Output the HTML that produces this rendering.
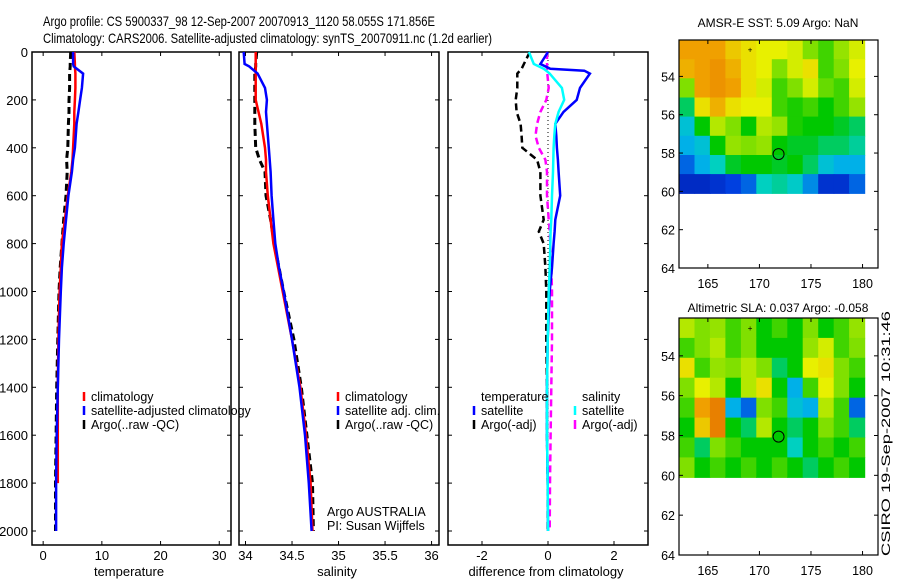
<!DOCTYPE html>
<html><head><meta charset="utf-8"><style>
body{margin:0;background:#fff;}
svg{display:block;font-family:"Liberation Sans",sans-serif;}
</style></head><body>
<svg id="fig" width="900" height="580" viewBox="0 0 900 580">
<text x="43" y="26" font-size="14" textLength="392" lengthAdjust="spacingAndGlyphs">Argo profile: CS 5900337_98 12-Sep-2007 20070913_1120 58.055S 171.856E</text>
<text x="43" y="43" font-size="14" textLength="449" lengthAdjust="spacingAndGlyphs">Climatology: CARS2006. Satellite-adjusted climatology: synTS_20070911.nc (1.2d earlier)</text>
<g id="layer"></g>
<text transform="translate(890,556) rotate(-90)" font-size="12" textLength="245" lengthAdjust="spacingAndGlyphs">CSIRO 19-Sep-2007 10:31:46</text>
</svg>
<script>
// ---------- data ----------
const depthTicks = [0,200,400,600,800,1000,1200,1400,1600,1800,2000];
const tempTicks = [0,10,20,30];
const salTicks = [34,34.5,35,35.5,36];
const salTickLabels = ['34','34.5','35','35.5','36'];
const diffTicks = [-2,0,2];

const profDepth = [0,50,60,90,150,200,250,300,400,450,500,600,700,800,900,1000,1200,1400,1600,1800,2000];
const tempClim = [5.3,5.4,5.4,5.5,5.5,5.4,5.3,5.3,5.1,5.0,4.8,4.2,3.7,3.2,3.0,2.8,2.6,2.5,2.5,2.5,null];
const tempSat  = [5.1,5.1,5.2,6.8,6.6,6.3,6.0,5.7,5.4,5.1,4.9,4.3,3.9,3.5,3.2,3.0,2.7,2.5,2.3,2.2,2.2];
const tempArgo = [4.7,4.6,4.6,4.5,4.5,4.4,4.4,4.3,4.2,4.0,4.1,3.9,3.5,3.2,2.9,2.7,2.5,2.3,2.2,2.1,2.1];
const salClim  = [34.11,34.11,34.11,34.11,34.11,34.11,34.14,34.17,34.21,34.22,34.22,34.24,34.27,34.30,34.35,34.40,34.50,34.59,34.65,34.70,34.72];
const salSat   = [33.98,33.99,34.04,34.13,34.21,34.23,34.22,34.23,34.25,34.26,34.27,34.28,34.30,34.32,34.36,34.41,34.50,34.58,34.64,34.68,34.71];
const salArgo  = [34.12,34.11,34.11,34.10,34.10,34.10,34.10,34.10,34.11,34.15,34.21,34.22,34.27,34.31,34.36,34.41,34.52,34.60,34.66,34.72,34.73];

const diffDepth = [0,50,70,78,90,150,200,250,300,350,400,450,500,600,700,750,800,900,1000,1200,1400,1600,1800,2000];
const diffTempSat  = [0.0,-0.23,0.07,1.1,1.27,0.97,0.87,0.47,0.22,0.25,0.27,0.3,0.32,0.37,0.22,0.2,0.17,0.12,0.05,-0.01,-0.03,-0.03,-0.01,0.0];
const diffSalSat   = [-0.58,-0.43,-0.13,-0.05,0.05,0.42,0.49,0.32,0.22,0.19,0.17,0.16,0.15,0.12,0.1,0.08,0.07,0.05,0.02,-0.01,-0.03,-0.03,-0.01,0.0];
const diffTempArgo = [-0.55,-0.73,-0.8,-0.85,-0.93,-0.93,-0.98,-0.95,-0.83,-0.8,-0.78,-0.33,-0.23,-0.23,-0.13,-0.28,-0.13,-0.08,-0.05,-0.05,-0.03,-0.03,-0.01,-0.01];
const diffSalArgo  = [-0.03,-0.03,-0.03,-0.03,-0.02,0.02,-0.05,-0.23,-0.33,-0.38,-0.28,-0.08,-0.03,-0.03,0.02,0.05,0.07,0.1,0.12,0.12,0.1,0.08,0.06,0.05];

const mapLonTicks = [165,170,175,180];
const mapLatTicks = [54,56,58,60,62,64];
const gridLon0 = 162.2, gridLonStep = 1.5;
const gridLat0 = 52.1, gridLatStep = 1.0;
const sstGrid = [
 [0.8,0.8,0.8,0.75,0.72,0.7,0.7,0.68,0.6,0.55,0.62,0.68],
 [0.78,0.8,0.82,0.78,0.72,0.7,0.6,0.68,0.72,0.55,0.6,0.7],
 [0.6,0.8,0.82,0.8,0.72,0.68,0.55,0.6,0.68,0.58,0.55,0.68],
 [0.45,0.72,0.78,0.72,0.7,0.7,0.55,0.52,0.55,0.5,0.55,0.62],
 [0.35,0.5,0.65,0.6,0.5,0.65,0.62,0.52,0.5,0.5,0.48,0.45],
 [0.3,0.35,0.5,0.62,0.6,0.62,0.5,0.48,0.48,0.45,0.45,0.42],
 [0.2,0.3,0.4,0.48,0.5,0.5,0.48,0.5,0.45,0.35,0.3,0.3],
 [0.1,0.1,0.12,0.15,0.2,0.4,0.42,0.38,0.25,0.12,0.12,0.2]];
const slaGrid = [
 [0.65,0.6,0.62,0.55,0.6,0.5,0.55,0.5,0.6,0.5,0.55,0.62],
 [0.55,0.6,0.65,0.55,0.6,0.5,0.5,0.5,0.62,0.68,0.55,0.6],
 [0.72,0.55,0.62,0.6,0.65,0.6,0.45,0.5,0.7,0.72,0.6,0.55],
 [0.6,0.7,0.65,0.5,0.65,0.72,0.5,0.3,0.55,0.7,0.6,0.5],
 [0.55,0.8,0.85,0.3,0.2,0.6,0.55,0.35,0.3,0.65,0.55,0.2],
 [0.5,0.75,0.85,0.5,0.45,0.65,0.5,0.45,0.5,0.6,0.55,0.45],
 [0.55,0.45,0.6,0.55,0.5,0.5,0.5,0.4,0.5,0.55,0.5,0.55],
 [0.6,0.5,0.55,0.5,0.55,0.5,0.55,0.5,0.45,0.5,0.55,0.5]];
const floatLon = 171.856, floatLat = 58.055;

// ---------- helpers ----------
const NS='http://www.w3.org/2000/svg';
const layer=document.getElementById('layer');
function mk(tag,attrs,parent){const e=document.createElementNS(NS,tag);for(const k in attrs)e.setAttribute(k,attrs[k]);(parent||layer).appendChild(e);return e;}
function txt(x,y,s,size,anchor,parent){const t=mk('text',{x:x,y:y,'font-size':size,'text-anchor':anchor||'start'},parent);t.textContent=s;return t;}

const yTop=52, yPerM=0.2395, boxBottom=545;
const yD=d=>yTop+d*yPerM;

function panel(name,x0,x1,vmin,vmax){
  const g=mk('g',{});
  
  
  mk('rect',{x:x0,y:yTop,width:x1-x0,height:boxBottom-yTop,fill:'none',stroke:'#000','stroke-width':1.5},g);
  const xs=v=>x0+(v-vmin)/(vmax-vmin)*(x1-x0);
  depthTicks.forEach(d=>{const y=yD(d);mk('line',{x1:x0,x2:x0+4,y1:y,y2:y,stroke:'#000'},g);mk('line',{x1:x1-4,x2:x1,y1:y,y2:y,stroke:'#000'},g);});
  return {g,xs};
}
function line(p,depths,vals,color,dash,w,name){
  let d='',pen=false;
  vals.forEach((v,i)=>{if(v==null){pen=false;return;}d+=(pen?'L':'M')+p.xs(v).toFixed(1)+' '+yD(depths[i]).toFixed(1);pen=true;});
  const e=mk('path',{d:d,fill:'none',stroke:color,'stroke-width':w||2.5,'stroke-dasharray':dash||'none'},p.g);
  
  
}
function xTicks(p,ticks,labels){
  ticks.forEach((t,i)=>{const x=p.xs(t);mk('line',{x1:x,x2:x,y1:boxBottom,y2:boxBottom-4,stroke:'#000'},p.g);mk('line',{x1:x,x2:x,y1:yTop,y2:yTop+4,stroke:'#000'},p.g);
    const l=txt(x,560,labels?labels[i]:String(t),13,'middle',p.g);
    
    });
}
function legend(p,x,y,items){
  items.forEach((it,i)=>{const yy=y+i*14;
    mk('line',{x1:x,x2:x,y1:yy-5,y2:yy+4,stroke:it[1],'stroke-width':2.5},p.g);
    const t=txt(x+7,yy+4,it[0],12.5,'start',p.g);
    
    });
}

// ---------- temperature panel ----------
const pT=panel('temperature-panel',32,231,-1.9,32);
depthTicks.forEach(d=>{const l=txt(28,yD(d)+5,String(d),13,'end',pT.g);
  
  });
xTicks(pT,tempTicks);
const tl=txt(129,576,'temperature',13,'middle',pT.g);


line(pT,profDepth,tempArgo,'#000','7,4',3,'temp-argo-line');
line(pT,profDepth,tempClim,'#f00',null,2.5,'temp-climatology-line');
line(pT,profDepth,tempSat,'#00f',null,2.5,'temp-satellite-line');
legend(pT,84,397,[['climatology','#f00'],['satellite-adjusted climatology','#00f'],['Argo(..raw -QC)','#000']]);

// ---------- salinity panel ----------
const pS=panel('salinity-panel',239,439,33.93,36.08);
xTicks(pS,salTicks,salTickLabels);
const sl=txt(337,576,'salinity',13,'middle',pS.g);


line(pS,profDepth,salArgo,'#000','7,4',3,'sal-argo-line');
line(pS,profDepth,salClim,'#f00',null,2.5,'sal-climatology-line');
line(pS,profDepth,salSat,'#00f',null,2.5,'sal-satellite-line');
legend(pS,338,397,[['climatology','#f00'],['satellite adj. clim.','#00f'],['Argo(..raw -QC)','#000']]);
const a1=txt(327,516,'Argo AUSTRALIA',12.5,'start',pS.g);


const a2=txt(327,530,'PI: Susan Wijffels',12.5,'start',pS.g);



// ---------- difference panel ----------
const pD=panel('difference-panel',448,648,-3.03,3.03);
xTicks(pD,diffTicks);
const dl=txt(546,576,'difference from climatology',13,'middle',pD.g);


const zl=mk('line',{x1:pD.xs(0),x2:pD.xs(0),y1:yTop,y2:yD(2000),stroke:'#000','stroke-dasharray':'1,3'},pD.g);


line(pD,diffDepth,diffTempArgo,'#000','7,4',2.5,'diff-temp-argo-line');
line(pD,diffDepth,diffSalArgo,'#f0f','7,4',2.5,'diff-sal-argo-line');
line(pD,diffDepth,diffTempSat,'#00f',null,2.5,'diff-temp-satellite-line');
line(pD,diffDepth,diffSalSat,'#0ff',null,2.5,'diff-sal-satellite-line');
const lt=txt(481,401,'temperature',12.5,'start',pD.g);


const ls=txt(582,401,'salinity',12.5,'start',pD.g);


legend(pD,474,411,[['satellite','#00f'],['Argo(-adj)','#000']]);
legend(pD,575,411,[['satellite','#0ff'],['Argo(-adj)','#f0f']]);

// ---------- maps ----------
const stops=[[0,[0,0,140]],[0.15,[0,64,224]],[0.3,[0,176,232]],[0.4,[0,208,192]],[0.5,[0,200,0]],[0.6,[128,224,0]],[0.7,[232,240,0]],[0.8,[240,160,0]],[0.9,[224,96,0]],[1,[176,16,0]]];
function cmap(v){for(let i=1;i<stops.length;i++){if(v<=stops[i][0]){const a=stops[i-1],b=stops[i],t=(v-a[0])/(b[0]-a[0]);
  return 'rgb('+a[1].map((c,k)=>Math.round(c+(b[1][k]-c)*t)).join(',')+')';}}return 'rgb(176,16,0)';}
function map(name,title,top,bottom,titleY,grid){
  const g=mk('g',{});
  
  
  const x0=679,x1=878,lonMin=162.2,lonMax=181.5,latMin=52.1,latMax=64;
  const xs=lo=>x0+(lo-lonMin)/(lonMax-lonMin)*(x1-x0);
  const ys=la=>top+(la-latMin)/(latMax-latMin)*(bottom-top);
  grid.forEach((row,r)=>row.forEach((v,c)=>{
    const lo=gridLon0+c*gridLonStep, la=gridLat0+r*gridLatStep;
    const cell=mk('rect',{x:xs(lo).toFixed(1),y:ys(la).toFixed(1),width:(xs(lo+gridLonStep)-xs(lo)+0.6).toFixed(1),height:(ys(la+gridLatStep)-ys(la)+0.6).toFixed(1),fill:cmap(v)},g);
    
    
  }));
  mk('rect',{x:x0,y:top,width:x1-x0,height:bottom-top,fill:'none',stroke:'#000','stroke-width':1.2},g);
  mapLatTicks.forEach(la=>{const y=ys(la);mk('line',{x1:x0,x2:x0+4,y1:y,y2:y,stroke:'#000'},g);mk('line',{x1:x1-4,x2:x1,y1:y,y2:y,stroke:'#000'},g);
    const l=txt(675,y+5,String(la),12.5,'end',g);
    
    });
  mapLonTicks.forEach(lo=>{const x=xs(lo);mk('line',{x1:x,x2:x,y1:bottom,y2:bottom-4,stroke:'#000'},g);mk('line',{x1:x,x2:x,y1:top,y2:top+4,stroke:'#000'},g);
    const l=txt(x,bottom+20,String(lo),12.5,'middle',g);
    
    });
  const t=txt(778,titleY,title,12,'middle',g);
  
  
  const c=mk('circle',{cx:xs(floatLon),cy:ys(floatLat),r:5.5,fill:'none',stroke:'#000','stroke-width':1},g);
  
  
  txt(xs(169.1),ys(52.6)+3,'+',8,'middle',g);
}
map('sst-map','AMSR-E SST: 5.09 Argo: NaN',40,268,27,sstGrid);
map('sla-map','Altimetric SLA: 0.037 Argo: -0.058',318,555,312,slaGrid);
</script>
</body></html>
